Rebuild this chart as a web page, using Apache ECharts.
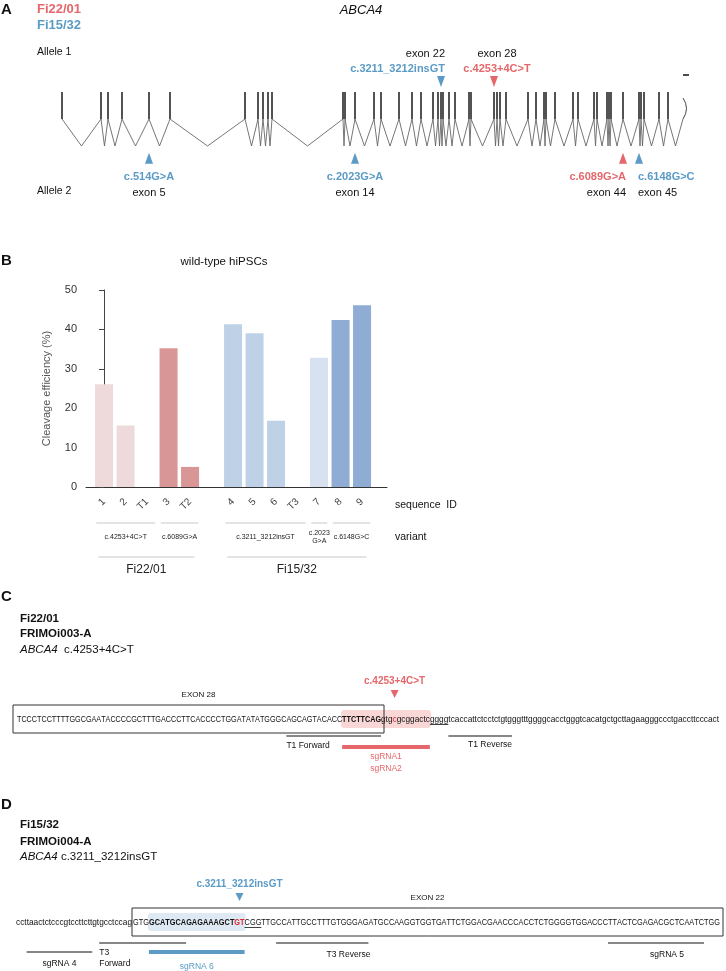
<!DOCTYPE html>
<html>
<head>
<meta charset="utf-8">
<script src="https://cdn.jsdelivr.net/npm/echarts@6/dist/echarts.min.js"></script>
<style>
html,body{margin:0;padding:0;background:#fff}
#main{width:726px;height:971px}
</style>
</head>
<body>
<div id="main"></div>
<script>
// ---------- A: ABCA4 exon positions (relative gene position)
const exonPos = [0,39,46,60,87,108,183,196,201,206,210,281,283,293,312,319,337,350,359,371,376,379,381,387,393,407,409,432,435,438,444,466,474,482,484,493,511,516,532,535,545,547,549,561,577,579,582,597,606,621];
const variants = ['c.3211_3212insGT','c.4253+4C>T','c.514G>A','c.2023G>A','c.6089G>A','c.6148G>C'];
const variantExon = [22,28,5,14,44,45];
const variantAllele = [1,1,2,2,2,2];
const variantPatient = ['Fi15/32','Fi22/01','Fi15/32','Fi15/32','Fi22/01','Fi15/32'];

// ---------- B: cleavage efficiency per sequence (slot 5 is a spacer)
const seqIds = ['1','2','T1','3','T2','','4','5','6','T3','7','8','9'];
const cleavage = [26.1,15.6,null,35.2,5.1,null,41.3,39.0,16.8,null,32.8,42.4,46.1];
const variantGroups = ['c.4253+4C>T','c.6089G>A','c.3211_3212insGT','c.2023\nG>A','c.6148G>C'];
const groupFirst = [0,3,6,10,11];
const groupLast = [2,4,9,10,12];
const patients = ['Fi22/01','Fi15/32'];
const patientFirst = [0,6];
const patientLast = [4,12];

// ---------- C: Fi22/01 target sequence
const seqC = 'TCCCTCCTTTTGGCGAATACCCCGCTTTGACCCTTCACCCCTGGATATATGGGCAGCAGTACACCTTCTTCAG' +
             'gtgcgcggactcggggtcaccattctcctctgtgggtttggggcacctgggtcacatgctgcttagaagggccctgaccttcccact';
const exonC = [0,73];
const boldC = [[65,73]];
const mutC = [76,77];
const pamC = [85,89];
const featNamesC = ['T1 Forward','T1 Reverse','sgRNA1\nsgRNA2'];
const featFromC = [54,89,65];
const featToC = [73,107,85];

// ---------- D: Fi15/32 target sequence
const seqD = 'ccttaactctcccgtccttcttgtgcctccag' +
             'GTGGCATGCAGAGAAAGCTGTCGGTTGCCATTGCCTTTGTGGGAGATGCCAAGGTGGTGATTCTGGACGAACCCACCTCTGGGGTGGACCCTTACTCGAGACGCTCAATCTGG';
const exonD = [32,145];
const boldD = [[35,53]];
const mutD = [51,53];
const pamD = [53,56];
const featNamesD = ['sgRNA 4','T3\nForward','sgRNA 6','T3 Reverse','sgRNA 5'];
const featFromD = [3,24,35,59,123];
const featToD = [22,42,53,77,142];

// ---------- styles
const FONT = '"Liberation Sans", Arial, sans-serif';
const RED = '#e5676b', BLUE = '#5b9bc5';
const patientColor = {'Fi22/01': RED, 'Fi15/32': BLUE};
const groupColor = ['#eedada','#d99697','#bfd1e6','#d7e1ef','#8eacd4'];

function txt(x, y, text, o) {
  return {type:'text', x:x, y:y, silent:true,
    style:Object.assign({text:text, fill:'#111', fontSize:11, fontFamily:FONT, align:'left', verticalAlign:'middle'}, o || {})};
}
function hline(x1, x2, y, color, w) {
  return {type:'line', silent:true, shape:{x1:x1, y1:y, x2:x2, y2:y}, style:{stroke:color, lineWidth:w}};
}

// ---------- sequence layout (character widths measured, each case-run fitted to its span)
const SEQ_SIZE = 9.6;
const mctx = document.createElement('canvas').getContext('2d');
function inAny(i, ranges) { return ranges.some(r => i >= r[0] && i < r[1]); }
function charW(ch, bold) {
  mctx.font = (bold ? 'bold ' : '') + SEQ_SIZE + 'px "Liberation Sans"';
  return mctx.measureText(ch).width;
}

function seqPanel(p) {
  const seq = p.seq, n = seq.length;
  const xs = new Array(n + 1), sc = new Array(n);
  p.spans.forEach(sp => {
    let nat = 0;
    for (let i = sp.from; i < sp.to; i++) nat += charW(seq[i], inAny(i, p.bold));
    const k = (sp.x1 - sp.x0) / nat;
    let x = sp.x0;
    for (let i = sp.from; i < sp.to; i++) { xs[i] = x; sc[i] = k; x += charW(seq[i], inAny(i, p.bold)) * k; }
    xs[sp.to] = x;
  });
  const y = p.y, els = [];
  // sgRNA highlight
  els.push({type:'rect', silent:true, shape:{x:xs[p.guide[0]] - 1, y:y - 9, width:xs[p.guide[1]] - xs[p.guide[0]] + 2, height:18, r:3},
    style:{fill:p.hlColor}});
  // bases
  for (let i = 0; i < n; i++) {
    const bold = inAny(i, p.bold), red = i >= p.mut[0] && i < p.mut[1];
    els.push({type:'text', x:xs[i], y:y, scaleX:sc[i], silent:true,
      style:{text:seq[i], fill:red ? '#e3262b' : '#111', fontSize:SEQ_SIZE, fontFamily:'"Liberation Sans"',
        fontWeight:bold ? 'bold' : 'normal', verticalAlign:'middle'}});
  }
  // exon box + label
  const bx0 = xs[p.exon[0]] - p.boxPad[0], bx1 = xs[p.exon[1]] + p.boxPad[1];
  els.push({type:'rect', silent:true, shape:{x:bx0, y:y - 14, width:bx1 - bx0, height:28},
    style:{fill:null, stroke:'#333', lineWidth:1}});
  els.push(txt((bx0 + bx1) / 2, y - 24, p.exonLabel, {fontSize:8, align:'center'}));
  // PAM underline
  els.push(hline(xs[p.pam[0]], xs[p.pam[1]], y + 5.5, '#111', 0.8));
  // primers and guides
  p.names.forEach((name, i) => {
    const f = p.feat[i];
    const x0 = xs[p.from[i]], x1 = xs[p.to[i]];
    const ly = y + p.tracks[f.track];
    if (f.guide) els.push(hline(x0, x1, ly, p.color, 4));
    else els.push(hline(x0, x1, ly, '#111', 1.2));
    const ax = f.anchor === 'left' ? x0 : f.anchor === 'right' ? x1 : (x0 + x1) / 2;
    els.push({type:'text', x:ax + (f.dx || 0), y:ly + f.dy, silent:true,
      style:{text:name, fill:f.guide ? p.color : '#111', fontSize:8.5, fontFamily:FONT,
        align:f.anchor === 'middle' ? 'center' : f.anchor, verticalAlign:'top', lineHeight:f.lh || 11}});
  });
  // mutation marker
  const mx = (xs[p.mut[0]] + xs[p.mut[1]]) / 2;
  els.push(txt(mx, y - 38, p.mutLabel, {fontSize:10, fontWeight:'bold', fill:p.color, align:'center'}));
  els.push({type:'polygon', silent:true, shape:{points:[[mx - 4, y - 29], [mx + 4, y - 29], [mx, y - 21]]}, style:{fill:p.color}});
  return els;
}

const panelC = seqPanel({
  seq:seqC, y:719, bold:boldC, mut:mutC, pam:pamC, guide:[65,85], exon:exonC, boxPad:[4,3],
  spans:[{from:0, to:73, x0:17, x1:381}, {from:73, to:160, x0:381, x1:719}],
  hlColor:'#f9d7d7', color:RED, exonLabel:'EXON 28', mutLabel:'c.4253+4C>T',
  names:featNamesC, from:featFromC, to:featToC, tracks:[17,28],
  feat:[{track:0, anchor:'left', dy:4}, {track:0, anchor:'right', dy:3}, {track:1, anchor:'middle', dy:4, guide:true, lh:12}]
});
const panelD = seqPanel({
  seq:seqD, y:922, bold:boldD, mut:mutD, pam:pamD, guide:[35,53], exon:exonD, boxPad:[1,3],
  spans:[{from:0, to:32, x0:16, x1:132}, {from:32, to:145, x0:133, x1:720}],
  hlColor:'#dfe9f4', color:BLUE, exonLabel:'EXON 22', mutLabel:'c.3211_3212insGT',
  names:featNamesD, from:featFromD, to:featToD, tracks:[21,30],
  feat:[{track:1, anchor:'middle', dy:6}, {track:0, anchor:'left', dy:4}, {track:1, anchor:'middle', dy:9, guide:true},
        {track:0, anchor:'right', dy:6, dx:2}, {track:0, anchor:'right', dy:6, dx:-20}]
});

// ---------- panel A markers
const labelAlignA = [{align:'right', dx:4}, {align:'center', dx:3}, {align:'center', dx:0},
                     {align:'center', dx:0}, {align:'right', dx:3}, {align:'left', dx:-1}];
const markerData = variants.map((v, i) => {
  const top = variantAllele[i] === 1;
  const col = patientColor[variantPatient[i]];
  const key = col === RED ? 'r' : 'b';
  return {
    value:[exonPos[variantExon[i] - 1], top ? 1.39 : -1.45],
    symbolRotate:top ? 180 : 0,
    itemStyle:{color:col, opacity:1},
    label:{show:true, position:top ? 'top' : 'bottom', distance:top ? -1 : 6,
      align:labelAlignA[i].align, offset:[labelAlignA[i].dx, 0], color:'#111',
      formatter:top ? '{ex|exon ' + variantExon[i] + '}\n{' + key + '|' + v + '}'
                    : '{' + key + '|' + v + '}\n{ex|exon ' + variantExon[i] + '}',
      rich:{
        ex:{fontSize:11, color:'#111', lineHeight:15.5, fontFamily:FONT},
        r:{fontSize:11, color:RED, fontWeight:'bold', lineHeight:15.5, fontFamily:FONT},
        b:{fontSize:11, color:BLUE, fontWeight:'bold', lineHeight:15.5, fontFamily:FONT}
      }}
  };
});

// ---------- panel B bars
const barData = [];
cleavage.forEach((v, i) => {
  if (v == null) return;
  const g = groupFirst.findIndex((f, k) => i >= f && i <= groupLast[k]);
  barData.push({value:[i, v], itemStyle:{color:groupColor[g]}});
});
const idSlots = seqIds.map((s, i) => i).filter(i => seqIds[i] !== '');

function bracketRender(first, last, names, padL, padR, dLine, dText, textStyle) {
  return function (params, api) {
    const i = params.dataIndex;
    const a = api.coord([first[i] - padL, 0]), b = api.coord([last[i] + padR, 0]);
    return {type:'group', children:[
      {type:'line', shape:{x1:a[0], y1:a[1] + dLine, x2:b[0], y2:b[1] + dLine}, style:{stroke:'#bbb', lineWidth:0.8}},
      {type:'text', x:(a[0] + b[0]) / 2, y:a[1] + dText,
        style:Object.assign({text:names[i], fill:'#222', fontFamily:FONT, align:'center', verticalAlign:'middle'}, textStyle)}
    ]};
  };
}

const option = {
  animation:false,
  textStyle:{fontFamily:FONT},
  grid:[
    {left:62, width:621, top:92, height:54},
    {left:86, width:301, top:290, height:197}
  ],
  xAxis:[
    {gridIndex:0, type:'value', min:0, max:621, show:false},
    {gridIndex:1, type:'value', min:-0.84, max:13.16,
      axisLine:{lineStyle:{color:'#333', width:1}}, axisTick:{show:false}, splitLine:{show:false},
      axisLabel:{customValues:idSlots, formatter:v => seqIds[v], rotate:45, margin:13, fontSize:10, color:'#444'}}
  ],
  yAxis:[
    {gridIndex:0, type:'value', min:-1, max:1, show:false},
    {gridIndex:1, type:'value', min:0, max:50, interval:10,
      name:'Cleavage efficiency (%)', nameLocation:'middle', nameGap:34,
      nameTextStyle:{fontSize:11, color:'#555'},
      axisLine:{show:true, lineStyle:{color:'#444'}},
      axisTick:{show:true, length:5, lineStyle:{color:'#444'}},
      splitLine:{show:false},
      axisLabel:{fontSize:11, color:'#333', margin:9}}
  ],
  series:[
    {
      type:'custom', xAxisIndex:0, yAxisIndex:0, silent:true, clip:false,
      data:exonPos.map((p, i) => [p, i]),
      renderItem:function (params, api) {
        const i = params.dataIndex, x = api.value(0);
        const top = api.coord([x, 1]), bot = api.coord([x, 0]);
        const ch = [];
        if (i === exonPos.length - 1) {
          ch.push({type:'bezierCurve', shape:{x1:top[0], y1:top[1] + 6, x2:bot[0], y2:bot[1],
            cpx1:top[0] + 7, cpy1:(top[1] + bot[1]) / 2 + 3}, style:{stroke:'#444', lineWidth:1, fill:null}});
        } else {
          ch.push({type:'line', shape:{x1:top[0], y1:top[1], x2:bot[0], y2:bot[1]}, style:{stroke:'#1a1a1a', lineWidth:1.5}});
          const nx = exonPos[i + 1];
          const mid = api.coord([(x + nx) / 2, -1]), nb = api.coord([nx, 0]);
          ch.push({type:'polyline', shape:{points:[bot, mid, nb]}, style:{stroke:'#666', lineWidth:0.9, fill:null}});
        }
        return {type:'group', children:ch};
      }
    },
    {
      type:'scatter', xAxisIndex:0, yAxisIndex:0, silent:true, clip:false,
      symbol:'triangle', symbolSize:[8, 11], itemStyle:{opacity:1}, data:markerData
    },
    {
      type:'bar', xAxisIndex:1, yAxisIndex:1, barWidth:18, silent:true, data:barData
    },
    {
      type:'custom', xAxisIndex:1, yAxisIndex:1, silent:true, clip:false,
      data:variantGroups.map((g, i) => [groupFirst[i], 0]),
      renderItem:bracketRender(groupFirst, groupLast, variantGroups, 0.36, 0.38, 36, 50, {fontSize:7, lineHeight:7.5})
    },
    {
      type:'custom', xAxisIndex:1, yAxisIndex:1, silent:true, clip:false,
      data:patients.map((g, i) => [patientFirst[i], 0]),
      renderItem:bracketRender(patientFirst, patientLast, patients, 0.27, 0.2, 70, 83, {fontSize:12})
    }
  ],
  graphic:{elements:[
    // panel A
    txt(1, 10, 'A', {fontSize:15, fontWeight:'bold'}),
    txt(37, 9, 'Fi22/01', {fontSize:13, fontWeight:'bold', fill:RED}),
    txt(37, 25, 'Fi15/32', {fontSize:13, fontWeight:'bold', fill:BLUE}),
    txt(361, 10, 'ABCA4', {fontSize:13, fontStyle:'italic', align:'center'}),
    txt(37, 52, 'Allele 1', {fontSize:10.5}),
    txt(37, 191, 'Allele 2', {fontSize:10.5}),
    hline(683, 689, 75, '#111', 1.5),
    // panel B
    txt(1, 261, 'B', {fontSize:15, fontWeight:'bold'}),
    txt(224, 262, 'wild-type hiPSCs', {fontSize:11.5, align:'center'}),
    txt(395, 505, 'sequence  ID', {fontSize:10.5}),
    txt(395, 537, 'variant', {fontSize:10.5}),
    // panel C
    txt(1, 597, 'C', {fontSize:15, fontWeight:'bold'}),
    txt(20, 619, 'Fi22/01', {fontSize:11.5, fontWeight:'bold'}),
    txt(20, 634, 'FRIMOi003-A', {fontSize:11.5, fontWeight:'bold'}),
    txt(20, 650, '{i|ABCA4}  c.4253+4C>T', {fontSize:11.5, rich:{i:{fontStyle:'italic', fontSize:11.5, fontFamily:FONT}}})
  ].concat(panelC).concat([
    // panel D
    txt(1, 805, 'D', {fontSize:15, fontWeight:'bold'}),
    txt(20, 825, 'Fi15/32', {fontSize:11.5, fontWeight:'bold'}),
    txt(20, 842, 'FRIMOi004-A', {fontSize:11.5, fontWeight:'bold'}),
    txt(20, 857, '{i|ABCA4} c.3211_3212insGT', {fontSize:11.5, rich:{i:{fontStyle:'italic', fontSize:11.5, fontFamily:FONT}}})
  ]).concat(panelD)}
};

const chart = echarts.init(document.getElementById('main'));
chart.setOption(option);
</script>
</body>
</html>
